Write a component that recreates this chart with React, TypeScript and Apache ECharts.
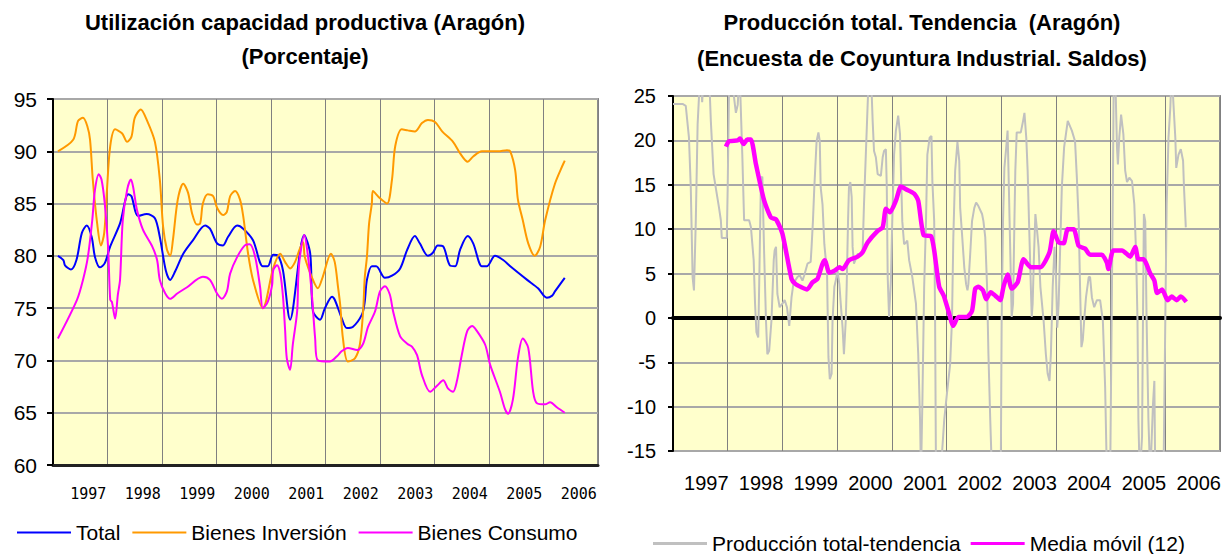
import React, { useEffect, useRef } from "react";
import * as echarts from "echarts";

// ---------- Left chart: Utilización capacidad productiva (t = years from axis start, value = %) ----------
const leftYears = ["1997", "1998", "1999", "2000", "2001", "2002", "2003", "2004", "2005", "2006"];
const leftTicks = [60, 65, 70, 75, 80, 85, 90, 95];

const totalSeries: [number, number][] = [
  [0.09, 80.0], [0.19, 79.6], [0.22, 79.1], [0.33, 78.7], [0.43, 79.6], [0.53, 82.2], [0.62, 82.9],
  [0.71, 81.8], [0.77, 79.9], [0.86, 78.9], [0.95, 79.3], [1.05, 80.9], [1.23, 83.1], [1.38, 85.9],
  [1.44, 85.7], [1.56, 83.8], [1.72, 84.0], [1.87, 83.6], [1.96, 81.8], [2.07, 78.6], [2.15, 77.7],
  [2.24, 78.5], [2.39, 80.2], [2.57, 81.5], [2.79, 82.9], [2.88, 82.6], [3.01, 81.2], [3.12, 81.0],
  [3.21, 81.8], [3.38, 82.9], [3.49, 82.6], [3.67, 81.5], [3.85, 79.0], [3.94, 79.0], [4.04, 80.1],
  [4.13, 80.0], [4.22, 78.6], [4.35, 73.9], [4.61, 82.0], [4.72, 80.2], [4.77, 74.7], [4.9, 73.9],
  [4.99, 75.0], [5.12, 76.1], [5.17, 75.8], [5.3, 74.0], [5.39, 73.1], [5.5, 73.2], [5.67, 74.4],
  [5.72, 75.6], [5.76, 77.7], [5.85, 79.0], [5.93, 79.0], [6.09, 77.9], [6.22, 78.1], [6.37, 78.8],
  [6.5, 80.6], [6.64, 81.9], [6.73, 81.2], [6.88, 80.0], [6.97, 80.3], [7.06, 81.0], [7.16, 80.9],
  [7.28, 79.1], [7.38, 79.0], [7.47, 80.6], [7.61, 81.9], [7.71, 81.2], [7.87, 79.0], [7.96, 79.0],
  [8.11, 80.0], [8.26, 79.6], [8.39, 79.0], [8.7, 77.7], [8.9, 76.9], [9.06, 76.0], [9.16, 76.2],
  [9.21, 76.6], [9.39, 77.9],
];

const inversionSeries: [number, number][] = [
  [0.09, 90.0], [0.37, 91.1], [0.46, 92.9], [0.55, 93.2], [0.63, 92.4], [0.68, 91.1], [0.73, 87.3],
  [0.81, 83.1], [0.88, 81.0], [0.94, 82.2], [0.99, 86.3], [1.05, 90.5], [1.14, 92.1], [1.27, 91.7],
  [1.36, 90.9], [1.44, 91.4], [1.5, 93.2], [1.61, 94.0], [1.72, 93.0], [1.87, 90.9], [1.96, 87.3],
  [2.02, 82.8], [2.09, 80.6], [2.15, 80.0], [2.2, 81.5], [2.29, 85.4], [2.39, 86.9], [2.48, 86.0],
  [2.55, 84.1], [2.64, 83.0], [2.7, 83.1], [2.75, 85.0], [2.84, 85.9], [2.94, 85.7], [3.01, 84.6],
  [3.12, 83.9], [3.19, 84.2], [3.25, 85.7], [3.34, 86.2], [3.43, 85.4], [3.49, 83.8], [3.58, 80.2],
  [3.67, 77.7], [3.85, 75.0], [4.04, 78.8], [4.17, 80.2], [4.26, 79.4], [4.35, 78.8], [4.44, 79.4],
  [4.53, 80.7], [4.59, 81.3], [4.62, 79.9], [4.77, 77.7], [4.86, 76.9], [4.95, 78.0], [5.1, 80.2],
  [5.17, 79.4], [5.23, 77.0], [5.27, 75.3], [5.32, 72.1], [5.41, 69.9], [5.54, 70.2], [5.63, 71.5],
  [5.69, 74.7], [5.72, 77.9], [5.76, 79.9], [5.8, 83.1], [5.85, 85.0], [5.87, 86.2], [6.0, 85.5],
  [6.13, 85.0], [6.22, 87.3], [6.28, 90.5], [6.4, 92.1], [6.51, 92.0], [6.64, 91.9], [6.77, 92.7],
  [6.88, 93.0], [7.01, 92.8], [7.14, 91.9], [7.34, 90.9], [7.47, 89.8], [7.61, 89.0], [7.71, 89.5],
  [7.87, 90.0], [8.17, 90.0], [8.33, 90.1], [8.39, 90.0], [8.48, 88.2], [8.53, 85.4], [8.62, 83.4],
  [8.72, 81.2], [8.84, 80.0], [8.94, 80.9], [9.03, 83.4], [9.21, 86.9], [9.39, 89.1],
];

const consumoSeries: [number, number][] = [
  [0.09, 72.1], [0.44, 75.8], [0.55, 77.7], [0.64, 79.9], [0.72, 83.4], [0.77, 86.3], [0.84, 87.8],
  [0.89, 87.3], [0.95, 85.0], [1.01, 80.9], [1.05, 75.8], [1.08, 75.6], [1.14, 74.0], [1.19, 76.3],
  [1.23, 77.7], [1.28, 83.4], [1.36, 86.3], [1.43, 87.3], [1.47, 86.6], [1.54, 84.4], [1.65, 82.5],
  [1.82, 80.9], [1.91, 79.6], [1.96, 77.7], [2.06, 76.4], [2.15, 75.9], [2.28, 76.4], [2.46, 77.0],
  [2.75, 78.0], [2.88, 77.7], [3.01, 76.4], [3.1, 75.9], [3.19, 76.6], [3.25, 78.3], [3.38, 79.9],
  [3.52, 81.0], [3.61, 81.1], [3.71, 79.9], [3.8, 77.0], [3.85, 75.0], [3.94, 75.6], [4.02, 77.2],
  [4.04, 78.6], [4.11, 79.1], [4.17, 78.3], [4.22, 76.1], [4.26, 72.8], [4.29, 70.2], [4.35, 69.1],
  [4.4, 71.5], [4.48, 74.7], [4.5, 77.9], [4.53, 79.9], [4.61, 82.0], [4.68, 79.9], [4.75, 76.3],
  [4.81, 72.1], [4.86, 70.0], [5.08, 69.9], [5.21, 70.4], [5.3, 70.9], [5.41, 71.2], [5.58, 71.0],
  [5.69, 71.6], [5.78, 73.2], [5.91, 74.7], [6.0, 76.6], [6.09, 77.1], [6.18, 76.3], [6.24, 74.7],
  [6.37, 72.3], [6.5, 71.6], [6.59, 71.3], [6.68, 70.5], [6.77, 68.6], [6.92, 67.0], [7.05, 67.6],
  [7.16, 68.1], [7.25, 67.3], [7.34, 67.0], [7.41, 68.0], [7.5, 70.5], [7.6, 72.8], [7.69, 73.3],
  [7.78, 72.8], [7.93, 71.5], [8.02, 69.6], [8.2, 67.0], [8.29, 65.4], [8.35, 64.9], [8.44, 66.3],
  [8.53, 70.2], [8.62, 72.1], [8.72, 71.2], [8.81, 67.0], [8.88, 65.9], [9.03, 65.8], [9.12, 66.0],
  [9.25, 65.5], [9.39, 65.0],
];

// ---------- Right chart: Producción total. Tendencia (t = months from axis start) ----------
const rightYears = ["1997", "1998", "1999", "2000", "2001", "2002", "2003", "2004", "2005", "2006"];

const produccionSeries: [number, number][] = [
  [0, 24.1], [2.1, 24.1], [2.8, 23.9], [3.5, 20.3], [3.9, 14.7], [4.3, 4.6], [4.6, 3.1], [5.0, 10.9],
  [5.4, 21.8], [6.0, 28], [6.4, 24.3], [6.8, 28], [7.8, 29], [8.3, 22.2], [8.9, 16.2], [10.1, 12.4],
  [10.5, 11.0], [10.7, 9.0], [11.8, 9.0], [12.0, 14.7], [12.4, 30], [13.0, 27], [13.4, 24.8],
  [13.8, 23.1], [14.2, 24.0], [14.6, 28], [15.2, 18.4], [15.6, 11.0], [16.7, 11.0], [17.1, 10.2],
  [17.7, 6.5], [18.0, 1.6], [18.3, -1.6], [18.7, -2.2], [18.9, 3.5], [19.3, 15.8], [19.6, 15.9],
  [20.0, 7.2], [20.4, -0.3], [20.7, -4.1], [21.1, -3.7], [21.6, -0.3], [22.1, 6.5], [22.3, 7.6],
  [22.6, 8.0], [22.9, 2.7], [23.4, 1.2], [24.0, 1.6], [24.5, 2.0], [25.0, 1.2], [25.5, -0.9],
  [26.0, 2.3], [26.4, 3.8], [26.8, 4.2], [27.3, 4.6], [27.8, 4.8], [28.4, 4.2], [28.8, 4.8],
  [29.5, 6.1], [30.2, 6.3], [30.4, 8.0], [30.7, 10.9], [31.0, 14.7], [31.5, 19.9], [31.9, 20.9],
  [32.2, 19.9], [32.4, 14.7], [32.8, 12.8], [33.2, 8.3], [33.8, 5.0], [33.9, 1.6], [34.1, -4.4],
  [34.4, -6.9], [34.8, -6.3], [35.0, -0.3], [35.4, 3.5], [35.7, 4.2], [36.1, 5.3], [36.5, 3.8],
  [36.8, 1.6], [37.2, -1.1], [37.5, -4.1], [37.9, -0.3], [38.1, 3.5], [38.4, 10.9], [38.6, 14.7],
  [38.9, 15.3], [39.2, 13.6], [39.4, 8.0], [39.7, 6.1], [40.5, 7.2], [41.2, 7.2], [41.6, 7.6],
  [41.9, 12.8], [42.3, 18.4], [42.7, 24.0], [43.0, 28], [43.4, 28], [43.8, 22.2], [44.1, 18.8],
  [44.5, 18.1], [44.9, 16.2], [45.6, 16.0], [46.0, 18.1], [46.3, 18.8], [46.7, 19.0], [46.9, 14.7],
  [47.1, 4.6], [47.4, 0.1], [47.8, 4.2], [48.1, 10.9], [48.5, 18.4], [48.9, 21.1], [49.4, 22.8],
  [49.8, 20.7], [50.0, 16.6], [50.3, 10.9], [50.7, 8.3], [51.1, 8.5], [51.4, 8.7], [51.8, 6.5],
  [52.5, 4.6], [53.3, 1.6], [53.8, -4.1], [54.2, -11.5], [54.4, -18], [54.7, -9.7], [55.1, 3.5],
  [55.5, 10.9], [55.8, 18.4], [56.3, 20.3], [56.7, 20.5], [56.9, 15.4], [57.3, 10.9], [57.5, -0.3],
  [57.7, -18], [58.4, -20], [59.5, -11.5], [60.1, -8.5], [60.8, -5.2], [61.2, -0.3], [61.5, 9.1],
  [61.9, 16.6], [62.4, 19.8], [62.8, 17.7], [63.0, 12.4], [63.4, 9.5], [63.9, 5.7], [64.3, 3.8],
  [64.6, 3.1], [64.8, 3.8], [65.2, 7.2], [65.6, 10.9], [66.1, 12.4], [66.5, 13.0], [67.0, 12.6],
  [67.8, 11.7], [68.1, 10.9], [68.5, 9.1], [68.9, 3.5], [69.2, -4.1], [69.6, -11.5], [70.0, -18],
  [71.5, -20], [71.9, -18], [72.1, -0.3], [72.4, 10.9], [72.7, 16.9], [73.1, 19.2], [73.4, 21.1],
  [73.6, 16.6], [74.0, 7.2], [74.3, 0.1], [74.6, 1.6], [74.9, 10.9], [75.1, 16.6], [75.4, 20.9],
  [76.3, 20.9], [76.8, 22.2], [77.1, 23.1], [77.5, 20.3], [77.8, 16.6], [78.1, 10.9], [78.5, 3.5],
  [78.7, 0.1], [78.9, 1.6], [79.2, 7.2], [79.5, 11.7], [79.8, 10.2], [80.2, 8.0], [80.6, 3.5],
  [81.3, -0.3], [81.8, -4.1], [82.2, -6.3], [82.6, -7.1], [82.9, -4.1], [83.3, 3.5], [83.7, 8.0],
  [84.0, 5.0], [84.3, -1.1], [84.6, 1.6], [84.9, 7.2], [85.3, 14.7], [85.8, 19.2], [86.6, 22.2],
  [87.5, 21.1], [88.2, 19.9], [88.6, 15.8], [89.0, 10.9], [89.3, 3.5], [89.6, -3.3], [89.9, -2.5],
  [90.2, -0.3], [90.6, 2.3], [91.2, 4.6], [91.5, 4.6], [91.9, 2.3], [92.4, 1.2], [93.0, 2.0],
  [93.7, 2.0], [94.3, -0.3], [94.8, -7.8], [95.2, -18], [95.9, -18], [96.3, 3.5], [96.5, 14.7],
  [96.7, 28], [97.0, 28], [97.4, 19.2], [97.6, 17.3], [97.9, 20.3], [98.3, 22.9], [98.8, 20.7],
  [99.2, 16.6], [99.6, 15.3], [100.1, 15.8], [100.7, 15.4], [101.2, 12.8], [101.6, 7.2], [101.9, -0.3],
  [102.1, -11.5], [102.4, -18], [102.9, -13.4], [103.1, -0.3], [103.3, 11.7], [103.6, 10.9],
  [103.9, -0.3], [104.3, -11.5], [104.7, -18], [105.3, -9.7], [105.6, -7.1], [105.8, -18],
  [107.6, -18], [108.0, -0.3], [108.3, 12.8], [108.7, 20.3], [109.1, 23.7], [109.4, 28], [109.8, 24.0],
  [110.2, 20.3], [110.4, 16.9], [110.9, 18.4], [111.4, 19.0], [111.9, 17.7], [112.1, 14.7], [112.5, 10.2],
];

const mediaMovilSeries: [number, number][] = [
  [11.6, 19.3], [12.3, 19.9], [14.2, 20.0], [14.7, 20.2], [15.5, 19.6], [16.3, 20.1], [17.1, 20.1],
  [18.2, 17.3], [20.0, 13.2], [21.5, 11.3], [22.6, 11.1], [24.0, 9.5], [26.0, 4.4], [26.9, 3.8],
  [28.0, 3.5], [29.4, 3.2], [30.6, 4.0], [31.7, 4.4], [32.8, 6.1], [33.3, 6.5], [34.3, 5.1],
  [35.4, 5.3], [36.5, 5.7], [37.2, 5.5], [38.6, 6.5], [40.5, 6.9], [41.6, 7.4], [42.7, 8.5],
  [44.9, 9.8], [46.0, 10.2], [46.7, 12.3], [47.6, 11.9], [48.9, 13.2], [50.0, 14.8], [51.1, 14.5],
  [52.9, 14.0], [53.8, 13.2], [55.0, 9.3], [56.6, 9.2], [57.3, 7.6], [58.4, 3.5], [59.4, 2.5],
  [60.4, 0.8], [61.5, -0.9], [62.6, 0.1], [64.5, 0.1], [65.6, 0.8], [66.3, 3.3], [67.0, 3.5],
  [68.0, 3.1], [68.7, 2.1], [69.7, 2.9], [70.7, 2.5], [71.8, 2.0], [72.5, 3.5], [73.4, 4.9],
  [74.3, 3.3], [75.6, 4.0], [76.9, 6.6], [78.5, 5.7], [80.6, 5.7], [82.6, 7.4], [83.5, 9.8],
  [84.6, 8.5], [85.7, 8.4], [86.6, 10.0], [87.9, 10.0], [89.0, 8.1], [90.4, 7.8], [91.5, 7.1],
  [94.1, 7.1], [95.2, 6.2], [95.5, 5.5], [96.6, 7.6], [98.5, 7.6], [100.3, 6.9], [101.4, 8.0],
  [102.1, 6.6], [103.2, 6.6], [104.7, 5.0], [105.6, 4.2], [106.2, 2.8], [107.3, 3.2], [108.5, 2.0],
  [109.4, 2.4], [110.5, 2.0], [111.4, 2.4], [112.6, 1.8],
];

const FONT = '"Liberation Sans", Arial, sans-serif';
const PLOT_BG = "#FFFFCC";

export default function App() {
  const ref = useRef<HTMLDivElement>(null);

  useEffect(() => {
    document.body.style.margin = "0";
    const chart = echarts.init(ref.current!, null, { renderer: "svg" });

    const valueYAxisCommon = {
      type: "value" as const,
      axisLine: { show: true, onZero: false, lineStyle: { color: "#000", width: 2 } },
      axisTick: { show: true, length: 6, lineStyle: { color: "#000", width: 2 } },
      axisLabel: { fontSize: 21, color: "#000", fontFamily: FONT, margin: 16 },
      splitLine: { show: true, lineStyle: { color: "#a8a8a8", width: 2 } },
    };

    const titleFont = `bold 22px ${FONT}`;

    const option: any = {
      animation: false,
      graphic: [
        {
          type: "text",
          x: 305,
          y: 22,
          style: { text: "Utilización capacidad productiva (Aragón)", font: titleFont, fill: "#000", align: "center", verticalAlign: "middle" },
        },
        {
          type: "text",
          x: 305,
          y: 56,
          style: { text: "(Porcentaje)", font: titleFont, fill: "#000", align: "center", verticalAlign: "middle" },
        },
        {
          type: "text",
          x: 922,
          y: 22,
          style: { text: "Producción total. Tendencia  (Aragón)", font: titleFont, fill: "#000", align: "center", verticalAlign: "middle" },
        },
        {
          type: "text",
          x: 922,
          y: 58,
          style: { text: "(Encuesta de Coyuntura Industrial. Saldos)", font: titleFont, fill: "#000", align: "center", verticalAlign: "middle" },
        },
      ],
      legend: [
        {
          data: ["Total", "Bienes Inversión", "Bienes Consumo"],
          left: 12,
          top: 517,
          icon: "rect",
          itemWidth: 54,
          itemHeight: 2,
          itemGap: 12,
          textStyle: { fontSize: 21, color: "#000", fontFamily: FONT },
        },
        {
          data: ["Producción total-tendencia", "Media móvil (12)"],
          left: 648,
          top: 528,
          icon: "rect",
          itemWidth: 54,
          itemHeight: 3,
          itemGap: 10,
          textStyle: { fontSize: 21, color: "#000", fontFamily: FONT },
        },
      ],
      grid: [
        { left: 53, top: 99, width: 545, height: 366, show: true, backgroundColor: PLOT_BG, borderColor: "#8c8c8c", borderWidth: 2 },
        { left: 61, top: 482, width: 545, height: 1 },
        { left: 673, top: 96, width: 547, height: 355, show: true, backgroundColor: PLOT_BG, borderColor: "#8c8c8c", borderWidth: 2 },
        { left: 679, top: 469, width: 547, height: 1 },
      ],
      xAxis: [
        {
          gridIndex: 0,
          type: "value",
          min: 0,
          max: 10,
          interval: 1,
          axisLine: { show: true, onZero: false, lineStyle: { color: "#222", width: 3 } },
          axisTick: { show: false },
          axisLabel: { show: false },
          splitLine: { show: true, lineStyle: { color: "#808080", width: 1 } },
        },
        {
          gridIndex: 1,
          type: "category",
          data: leftYears,
          boundaryGap: true,
          axisLine: { show: false },
          axisTick: { show: false },
          axisLabel: { fontFamily: '"DejaVu Sans Mono", monospace', fontSize: 15, color: "#000", margin: 3, interval: 0 },
        },
        {
          gridIndex: 2,
          type: "value",
          min: 0,
          max: 120,
          interval: 12,
          axisLine: { show: true, onZero: true, lineStyle: { color: "#000", width: 4 } },
          axisTick: { show: false },
          axisLabel: { show: false },
          splitLine: { show: true, lineStyle: { color: "#808080", width: 1 } },
        },
        {
          gridIndex: 3,
          type: "category",
          data: rightYears,
          boundaryGap: true,
          axisLine: { show: false },
          axisTick: { show: false },
          axisLabel: { fontFamily: FONT, fontSize: 20, color: "#000", margin: 3, interval: 0 },
        },
      ],
      yAxis: [
        { ...valueYAxisCommon, gridIndex: 0, min: leftTicks[0], max: leftTicks[leftTicks.length - 1], interval: 5 },
        { gridIndex: 1, type: "value", show: false },
        { ...valueYAxisCommon, gridIndex: 2, min: -15, max: 25, interval: 5, axisTick: { show: true, length: 5, lineStyle: { color: "#000", width: 2 } }, axisLabel: { fontSize: 20, color: "#000", fontFamily: FONT, margin: 17 } },
        { gridIndex: 3, type: "value", show: false },
      ],
      series: [
        {
          name: "Total",
          type: "line",
          xAxisIndex: 0,
          yAxisIndex: 0,
          data: totalSeries,
          showSymbol: false,
          smooth: 0.3,
          color: "#0000FF",
          lineStyle: { color: "#0000FF", width: 2 },
        },
        {
          name: "Bienes Inversión",
          type: "line",
          xAxisIndex: 0,
          yAxisIndex: 0,
          data: inversionSeries,
          showSymbol: false,
          smooth: 0.3,
          color: "#FF9900",
          lineStyle: { color: "#FF9900", width: 2 },
        },
        {
          name: "Bienes Consumo",
          type: "line",
          xAxisIndex: 0,
          yAxisIndex: 0,
          data: consumoSeries,
          showSymbol: false,
          smooth: 0.3,
          color: "#FF00FF",
          lineStyle: { color: "#FF00FF", width: 2 },
        },
        {
          name: "Producción total-tendencia",
          type: "line",
          xAxisIndex: 2,
          yAxisIndex: 2,
          data: produccionSeries,
          showSymbol: false,
          clip: true,
          color: "#C0C0C0",
          lineStyle: { color: "#C0C0C0", width: 2 },
        },
        {
          name: "Media móvil (12)",
          type: "line",
          xAxisIndex: 2,
          yAxisIndex: 2,
          data: mediaMovilSeries,
          showSymbol: false,
          smooth: 0.2,
          color: "#FF00FF",
          lineStyle: { color: "#FF00FF", width: 4.5 },
        },
      ],
    };

    chart.setOption(option);
    return () => chart.dispose();
  }, []);

  return <div ref={ref} style={{ width: 1226, height: 554 }} />;
}
